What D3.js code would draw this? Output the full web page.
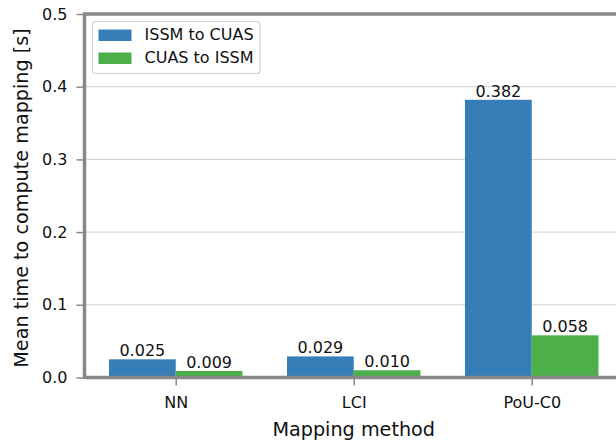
<!DOCTYPE html>
<html>
<head>
<meta charset="utf-8">
<script src="https://cdn.jsdelivr.net/npm/d3@7"></script>
<style>
  body { margin: 0; background: #fff; }
  svg { font-family: "DejaVu Sans", sans-serif; }
</style>
</head>
<body>
<div id="chart"></div>
<script>
const methods = ["NN", "LCI", "PoU-C0"];
const seriesNames = ["ISSM to CUAS", "CUAS to ISSM"];
const issmToCuas = [0.025, 0.029, 0.382];
const cuasToIssm = [0.009, 0.010, 0.058];
const yTicks = [0.0, 0.1, 0.2, 0.3, 0.4, 0.5];
const colors = ["#377eb8", "#4daf4a"];

const W = 616, H = 443;
const plotLeft = 84.5, plotTop = 14, plotBottom = 377.5;
const barW = 0.375;
const fontSmall = 16, fontLabel = 19.2;

const svg = d3.select("#chart").append("svg")
    .attr("width", W)
    .attr("height", H);

// x in data units (group index), matplotlib-like margins
const x = d3.scaleLinear()
  .domain([-0.5125, 2.5125])
  .range([plotLeft, plotLeft + 3.025 * 178]);

const y = d3.scaleLinear()
  .domain([0, 0.5])
  .range([plotBottom, plotTop]);

// grid
svg.append("g")
  .selectAll("line")
  .data(yTicks.slice(1))
  .join("line")
    .attr("x1", plotLeft).attr("x2", W)
    .attr("y1", d => y(d)).attr("y2", d => y(d))
    .attr("stroke", "#d0d0d0")
    .attr("stroke-width", 1);

const series = [issmToCuas, cuasToIssm];
series.forEach((vals, s) => {
  const g = svg.append("g");
  const offset = s === 0 ? -barW : 0;
  g.selectAll("rect")
    .data(vals)
    .join("rect")
      .attr("x", (d, i) => x(i + offset))
      .attr("width", x(barW) - x(0))
      .attr("y", d => y(d))
      .attr("height", d => y(0) - y(d))
      .attr("fill", colors[s]);
  g.selectAll("text")
    .data(vals)
    .join("text")
      .attr("x", (d, i) => x(i + offset + barW / 2))
      .attr("y", d => y(d) - 3)
      .attr("text-anchor", "middle")
      .attr("font-size", fontSmall)
      .attr("fill", "#111")
      .text(d => d.toFixed(3));
});

// y axis
const yAxis = svg.append("g")
  .attr("transform", `translate(${plotLeft},0)`)
  .call(d3.axisLeft(y).tickValues(yTicks).tickFormat(d3.format(".1f")).tickSize(8).tickPadding(9))
  .call(g => g.select(".domain").remove());
yAxis.selectAll(".tick line").attr("stroke", "#888").attr("stroke-width", 1.5);
yAxis.selectAll(".tick text").attr("font-size", fontSmall).attr("fill", "#111")
  .attr("font-family", "DejaVu Sans");

// x axis
const xAxis = svg.append("g")
  .attr("transform", `translate(0,${plotBottom})`)
  .call(d3.axisBottom(x).tickValues([0, 1, 2]).tickFormat(i => methods[i]).tickSize(8).tickPadding(11))
  .call(g => g.select(".domain").remove());
xAxis.selectAll(".tick line").attr("stroke", "#888").attr("stroke-width", 1.5);
xAxis.selectAll(".tick text").attr("font-size", fontSmall).attr("fill", "#111")
  .attr("font-family", "DejaVu Sans");

// spines
svg.append("line")
  .attr("x1", plotLeft).attr("x2", plotLeft)
  .attr("y1", plotTop - 1.5).attr("y2", plotBottom + 1.5)
  .attr("stroke", "#888").attr("stroke-width", 3.5);
svg.append("line")
  .attr("x1", plotLeft).attr("x2", W)
  .attr("y1", plotTop).attr("y2", plotTop)
  .attr("stroke", "#888").attr("stroke-width", 3.5);
svg.append("line")
  .attr("x1", plotLeft).attr("x2", W)
  .attr("y1", plotBottom).attr("y2", plotBottom)
  .attr("stroke", "#888").attr("stroke-width", 3.5);

// axis labels
svg.append("text")
  .attr("x", (plotLeft + x.range()[1]) / 2)
  .attr("y", 436)
  .attr("text-anchor", "middle")
  .attr("font-size", fontLabel)
  .attr("fill", "#111")
  .text("Mapping method");

svg.append("text")
  .attr("transform", `translate(27.5,198) rotate(-90)`)
  .attr("text-anchor", "middle")
  .attr("font-size", fontLabel)
  .attr("fill", "#111")
  .text("Mean time to compute mapping [s]");

// legend
const legend = svg.append("g").attr("transform", "translate(92.5,21.5)");
legend.append("rect")
  .attr("width", 167.5).attr("height", 52)
  .attr("rx", 3)
  .attr("fill", "#fff")
  .attr("fill-opacity", 0.8)
  .attr("stroke", "#d0d0d0")
  .attr("stroke-width", 1.2);
seriesNames.forEach((name, i) => {
  legend.append("rect")
    .attr("x", 6).attr("y", 8 + i * 23)
    .attr("width", 33).attr("height", 11.5)
    .attr("fill", colors[i]);
  legend.append("text")
    .attr("x", 52).attr("y", 18.5 + i * 23)
    .attr("font-size", fontSmall)
    .attr("fill", "#111")
    .text(name);
});
</script>
</body>
</html>
